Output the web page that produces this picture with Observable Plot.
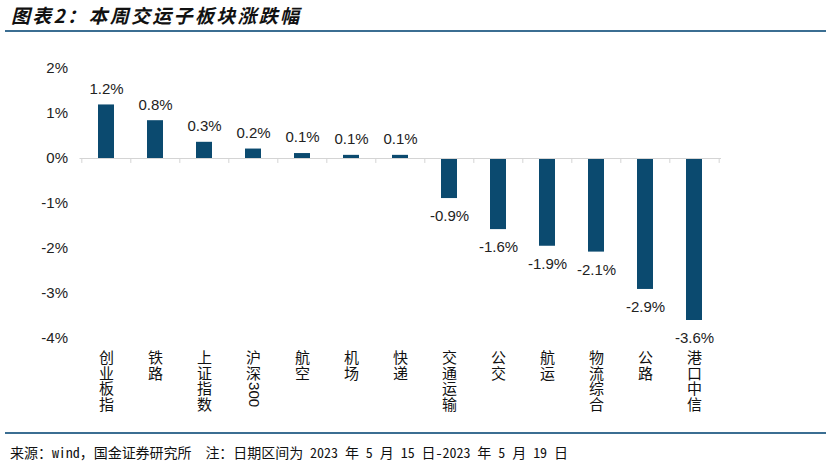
<!DOCTYPE html>
<html><head><meta charset="utf-8">
<script src="https://cdn.jsdelivr.net/npm/d3@7"></script>
<script src="https://cdn.jsdelivr.net/npm/@observablehq/plot@0.6"></script>
<style>
body{margin:0;width:831px;height:467px;background:#fff;overflow:hidden;position:relative;font-family:"Liberation Sans",Arial,sans-serif;}
#title{position:absolute;left:11px;top:3px;font-family:"Noto Sans CJK SC";font-weight:bold;font-style:italic;font-size:19px;letter-spacing:2.3px;line-height:24px;color:#111;}
#trule{position:absolute;left:5px;top:30px;width:821px;height:2px;background:#3b6e92;}
#chart{position:absolute;left:0;top:36px;}
#frule{position:absolute;left:5px;top:432px;width:821px;height:2px;background:#3b6e92;}
#foot{position:absolute;left:10px;top:443px;font-family:"Noto Sans Mono CJK SC","Noto Sans CJK SC";font-size:14px;line-height:18px;color:#111;white-space:pre;}
</style></head>
<body>
<div id="title">图表2：本周交运子板块涨跌幅</div>
<div id="trule"></div>
<div id="chart"></div>
<div id="frule"></div>
<div id="foot">来源：wind，国金证券研究所  注：日期区间为 2023 年 5 月 15 日-2023 年 5 月 19 日</div>
<script>
const categories = ["创业板指","铁路","上证指数","沪深300","航空","机场","快递","交通运输","公交","航运","物流综合","公路","港口中信"];
const values = [1.19, 0.84, 0.36, 0.21, 0.11, 0.07, 0.07, -0.89, -1.58, -1.95, -2.08, -2.91, -3.60];
const valueLabels = ["1.2%","0.8%","0.3%","0.2%","0.1%","0.1%","0.1%","-0.9%","-1.6%","-1.9%","-2.1%","-2.9%","-3.6%"];
const yTicks = [-4, -3, -2, -1, 0, 1, 2];

const data = categories.map((c, i) => {
  const m = c.match(/^(\D*)(\d*)$/);
  return {name: c, value: values[i], label: valueLabels[i], upright: m[1].split("").join("\n"), nUp: m[1].length, digits: m[2]};
});
const W = 831, ML = 79.5, MR = 110;
const step = (W - ML - MR) / categories.length;
const barColor = "#0b4a6f";
const LH = 15.8; // px per vertical character
const withDigits = data.filter(d => d.digits);

const plot = Plot.plot({
  width: W,
  height: 392,
  marginLeft: ML,
  marginRight: MR,
  marginTop: 32,
  marginBottom: 90,
  style: {fontFamily: "'Liberation Sans', Arial, sans-serif", fontSize: "15px", color: "#222", background: "transparent"},
  x: {domain: categories, paddingInner: 0.675, paddingOuter: 0.3375, axis: null},
  y: {domain: [-4, 2], axis: null},
  marks: [
    Plot.barY(data, {x: "name", y: "value", fill: barColor}),
    Plot.ruleY([0], {stroke: "#d4d4d4", strokeWidth: 1.2}),
    Plot.ruleX(data, {x: "name", y1: 0, y2: -0.11, dx: -step / 2, stroke: "#d4d4d4"}),
    Plot.ruleX([categories[categories.length - 1]], {x: d => d, y1: 0, y2: -0.11, dx: step / 2, stroke: "#d4d4d4"}),
    Plot.axisY({ticks: yTicks, tickFormat: d => d + "%", tickSize: 0, tickPadding: 12, fontSize: 15, fill: "#222", label: null}),
    Plot.text(data.filter(d => d.value >= 0), {x: "name", y: "value", text: "label", dy: -16, fontSize: 15, fill: "#222"}),
    Plot.text(data.filter(d => d.value < 0), {x: "name", y: "value", text: "label", dy: 18, fontSize: 15, fill: "#222"}),
    Plot.text(data, {x: "name", frameAnchor: "bottom", text: "upright", dy: 13, lineAnchor: "top", lineHeight: LH / 15, fontSize: 15, fill: "#111", fontFamily: "'Noto Sans CJK SC'"}),
    Plot.text(withDigits, {x: "name", frameAnchor: "bottom", text: "digits", rotate: 90, textAnchor: "start", lineAnchor: "middle", dy: 12 + withDigits[0].nUp * LH, fontSize: 15, fill: "#111", fontFamily: "'Liberation Sans', Arial, sans-serif"})
  ]
});
document.getElementById("chart").appendChild(plot);

// fit footer to reference width
const foot = document.getElementById("foot");
const n = foot.textContent.length;
const w = foot.getBoundingClientRect().width;
foot.style.letterSpacing = ((558 - w) / n) + "px";
</script>
</body></html>
